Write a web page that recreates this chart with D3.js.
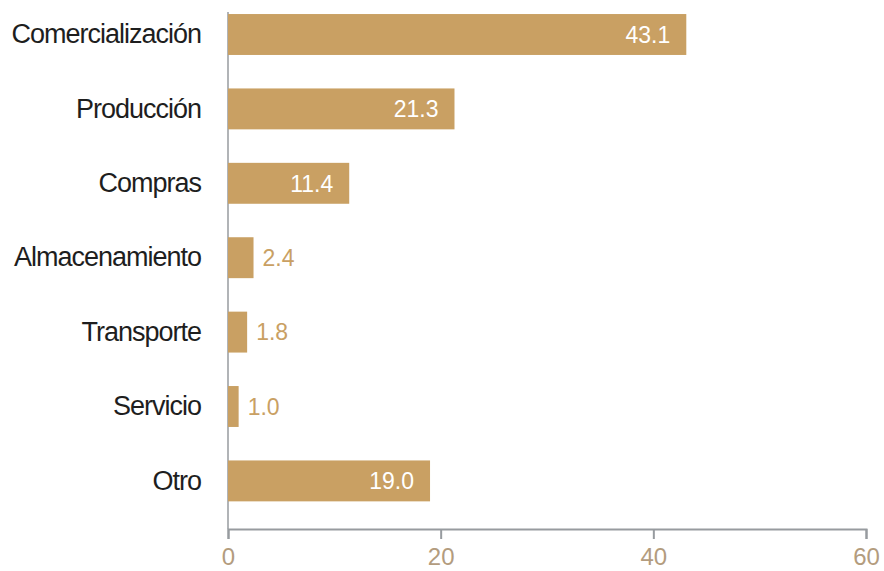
<!DOCTYPE html>
<html>
<head>
<meta charset="utf-8">
<script src="https://cdn.jsdelivr.net/npm/d3@7"></script>
<style>
  body { margin: 0; background: #fff; }
  text { font-family: "Liberation Sans", Arial, Helvetica, sans-serif; }
</style>
</head>
<body>
<div id="chart"></div>
<script>
// data
const categories = ["Comercialización", "Producción", "Compras", "Almacenamiento", "Transporte", "Servicio", "Otro"]
const values = [43.1, 21.3, 11.4, 2.4, 1.8, 1.0, 19.0]
const xTicks = [0, 20, 40, 60]

const dataset = categories.map((c, i) => ({ category: c, value: values[i] }))

const width = 884
const height = 571
const left = 228
const right = 866
const axisY = 529

const barColor = "#c9a063"
const tickColor = "#b39c7e"
const axisColor = "#979b9f"

const svg = d3.select("#chart").append("svg")
  .attr("width", width)
  .attr("height", height)

const xScale = d3.scaleLinear()
  .domain([0, 60])
  .range([left, right])

const yScale = d3.scaleBand()
  .domain(categories)
  .range([-2.7, 518.1])
  .paddingInner(0.45)
  .paddingOuter(0.225)

// axes
svg.append("line")
  .attr("x1", left).attr("x2", left)
  .attr("y1", 12).attr("y2", axisY)
  .attr("stroke", axisColor)
  .attr("stroke-width", 1.5)

const xAxis = svg.append("g")
  .attr("transform", `translate(0, ${axisY})`)
  .call(d3.axisBottom(xScale).tickValues(xTicks).tickSize(10).tickPadding(9).tickFormat(d3.format("d")))
xAxis.select(".domain").attr("stroke", axisColor).attr("stroke-width", 2)
xAxis.selectAll(".tick line").attr("stroke", axisColor).attr("stroke-width", 2)
xAxis.selectAll(".tick text")
  .attr("fill", tickColor)
  .style("font-size", "24px")
  .style("font-family", "'Liberation Sans', Arial, sans-serif")

// bars
svg.selectAll("rect.bar")
  .data(dataset)
  .join("rect")
    .attr("class", "bar")
    .attr("x", xScale(0))
    .attr("y", d => yScale(d.category))
    .attr("width", d => xScale(d.value) - xScale(0))
    .attr("height", yScale.bandwidth())
    .attr("fill", barColor)

// value labels: inside when the bar is long enough
svg.selectAll("text.value")
  .data(dataset)
  .join("text")
    .attr("class", "value")
    .attr("x", d => d.value > 5 ? xScale(d.value) - 16 : xScale(d.value) + 9)
    .attr("y", d => yScale(d.category) + yScale.bandwidth() / 2)
    .attr("dy", "0.36em")
    .attr("text-anchor", d => d.value > 5 ? "end" : "start")
    .attr("fill", d => d.value > 5 ? "#fff" : barColor)
    .style("font-size", "23px")
    .text(d => d.value.toFixed(1))

// category labels
svg.selectAll("text.cat")
  .data(dataset)
  .join("text")
    .attr("class", "cat")
    .attr("x", 201)
    .attr("y", d => yScale(d.category) + yScale.bandwidth() / 2)
    .attr("dy", "0.32em")
    .attr("text-anchor", "end")
    .attr("fill", "#1e1e1e")
    .style("font-size", "27px")
    .style("letter-spacing", "-1px")
    .text(d => d.category)
</script>
</body>
</html>
